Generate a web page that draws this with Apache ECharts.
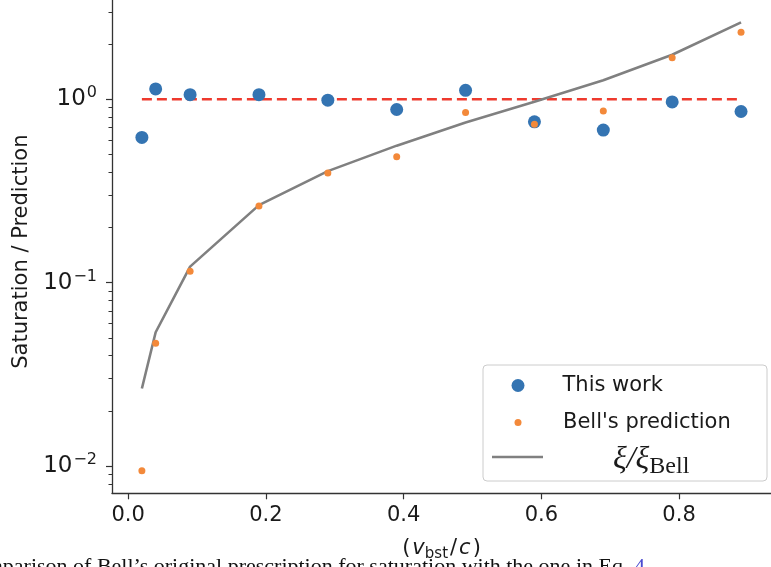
<!DOCTYPE html>
<html><head><meta charset="utf-8">
<script src="https://cdn.jsdelivr.net/npm/echarts@6/dist/echarts.min.js"></script>
<style>html,body{margin:0;padding:0;background:#fff;overflow:hidden}#c{width:771px;height:567px}</style>
</head><body><div id="c"></div>
<script>
// ---- data ----
const xValues = [0.02, 0.04, 0.09, 0.19, 0.29, 0.39, 0.49, 0.59, 0.69, 0.79, 0.89];
const thisWork = [0.62, 1.14, 1.06, 1.06, 0.99, 0.88, 1.12, 0.754, 0.68, 0.968, 0.858];
const bellPrediction = [0.00943, 0.0468, 0.1154, 0.262, 0.396, 0.487, 0.847, 0.732, 0.865, 1.683, 2.32];
const xiRatio = [0.0265, 0.0537, 0.1224, 0.265, 0.406, 0.559, 0.748, 0.97, 1.27, 1.75, 2.63];
const referenceX = [0.02, 0.89];
const referenceLevel = [1, 1];
const xTicks = [0, 0.2, 0.4, 0.6, 0.8];
const yMajorExponents = [-2, -1, 0];
const yMinorMultipliers = [2, 3, 4, 5, 6, 7, 8, 9];
const seriesNames = ['This work', "Bell's prediction", 'xi_ratio'];
const captionText = 'Comparison of Bell\u2019s original prescription for saturation with the one in Eq. ';

const xMin = -0.0234, xMax = 0.9335;
const yMin = 0.00711, yMax = 3.48;
const logMin = Math.log10(yMin), logMax = Math.log10(yMax);

const minorLogs = [];
for (let e = -3; e <= 0; e++) {
  for (const k of yMinorMultipliers) {
    const v = Math.log10(k) + e;
    if (v > logMin && v < logMax) minorLogs.push(v);
  }
}

const pairs = arr => xValues.map((x, i) => [x, arr[i]]);
const FONT = 'DejaVu Sans';
const INK = '#1a1a1a';

const chart = echarts.init(document.getElementById('c'), null, {renderer: 'canvas'});
chart.setOption({
  animation: false,
  backgroundColor: '#fff',
  grid: {left: 112, right: -8, top: -3.3, bottom: 567 - 493.3, containLabel: false},
  xAxis: {
    type: 'value', min: xMin, max: xMax,
    name: '{p|(}{v|v}{s|bst}{p|/}{v|c}{p|)}',
    nameLocation: 'middle', nameGap: 43,
    nameTextStyle: {
      rich: {
        p: {fontFamily: FONT, fontSize: 21, color: INK, padding: [0, 2, 0, 2]},
        v: {fontFamily: FONT, fontSize: 21, fontStyle: 'italic', color: INK},
        s: {fontFamily: FONT, fontSize: 15, color: INK, padding: [10, 0, 0, 0]}
      }
    },
    axisLine: {show: true, onZero: false, lineStyle: {color: '#333', width: 1.3}},
    axisTick: {show: true, length: 6, customValues: xTicks, lineStyle: {color: '#333', width: 1.2}},
    axisLabel: {customValues: xTicks, margin: 12, fontFamily: FONT, fontSize: 21, color: INK,
      formatter: v => v.toFixed(1)},
    splitLine: {show: false}
  },
  yAxis: [
    {
      type: 'log', logBase: 10, min: yMin, max: yMax,
      axisLine: {show: true, onZero: false, lineStyle: {color: '#333', width: 1.3}},
      axisTick: {show: false}, axisLabel: {show: false}, splitLine: {show: false}, minorTick: {show: false}
    },
    {
      type: 'value', min: logMin, max: logMax, position: 'left', offset: 0,
      name: 'Saturation / Prediction', nameLocation: 'middle', nameGap: 78,
      nameTextStyle: {fontFamily: FONT, fontSize: 21, color: INK, padding: [0, 10, 0, 0]},
      axisLine: {show: false, onZero: false},
      axisTick: {show: true, length: 6, customValues: yMajorExponents, lineStyle: {color: '#333', width: 1.2}},
      minorTick: {show: false},
      axisLabel: {
        customValues: yMajorExponents, margin: 15,
        formatter: v => '{b|10}{s|' + (v < 0 ? '\u2212' + Math.round(-v) : Math.round(v)) + '}',
        rich: {
          b: {fontFamily: FONT, fontSize: 23, color: INK},
          s: {fontFamily: FONT, fontSize: 16, color: INK, padding: [0, 0, 12, 1]}
        }
      },
      splitLine: {show: false}
    },
    {
      type: 'value', min: logMin, max: logMax, position: 'left', offset: 0,
      axisLine: {show: false, onZero: false}, axisLabel: {show: false}, splitLine: {show: false},
      axisTick: {show: true, length: 3.5, customValues: minorLogs, lineStyle: {color: '#333', width: 1}}
    }
  ],
  legend: [
    {
      data: [seriesNames[0]], left: 511.5, top: 375, padding: 0, orient: 'vertical',
      itemWidth: 13, itemHeight: 13, selectedMode: false,
      formatter: n => '{g|}{t|' + n + '}',
      textStyle: {rich: {g: {width: 33}, t: {fontFamily: FONT, fontSize: 21, color: INK, lineHeight: 24}}}
    },
    {
      data: [seriesNames[1]], left: 514.5, top: 412, padding: 0, orient: 'vertical',
      itemWidth: 7, itemHeight: 7, selectedMode: false,
      formatter: n => '{g|}{t|' + n + '}',
      textStyle: {rich: {g: {width: 36.5}, t: {fontFamily: FONT, fontSize: 21, color: INK, lineHeight: 24}}}
    },
    {
      data: [{name: seriesNames[2], icon: 'rect', itemStyle: {color: '#808080'}}],
      left: 492, top: 444, padding: 0, orient: 'vertical',
      itemWidth: 51, itemHeight: 2.6, selectedMode: false,
      formatter: () => '{g|}{a|\u03be/\u03be}{b|Bell}',
      textStyle: {
        rich: {
          g: {width: 65, lineHeight: 40},
          a: {fontFamily: 'Liberation Serif', fontStyle: 'italic', fontSize: 32, color: INK, padding: [6, 0, 0, 0]},
          b: {fontFamily: 'Liberation Serif', fontSize: 24, color: INK, padding: [20, 0, 0, 0]}
        }
      }
    }
  ],
  graphic: [
    {
      type: 'rect', z: 0,
      shape: {x: 483, y: 365, width: 284, height: 116, r: 4},
      style: {fill: '#fff', stroke: '#cccccc', lineWidth: 1}
    },
    {
      type: 'text', z: 10, x: -40, y: 556,
      style: {
        text: '{t|' + captionText + '}{l|4}',
        verticalAlign: 'top',
        rich: {
          t: {fontFamily: 'Liberation Serif', fontSize: 22, fill: '#111'},
          l: {fontFamily: 'Liberation Serif', fontSize: 22, fill: '#4b4bd0'}
        }
      }
    }
  ],
  series: [
    {
      name: 'reference', type: 'line', yAxisIndex: 0, z: 1, symbol: 'none', silent: true,
      data: referenceX.map((x, i) => [x, referenceLevel[i]]),
      lineStyle: {color: '#ee3a2e', width: 2.5, type: [10, 5]}
    },
    {
      name: seriesNames[2], type: 'line', yAxisIndex: 0, z: 2, symbol: 'none',
      data: pairs(xiRatio),
      lineStyle: {color: '#808080', width: 2.6}, itemStyle: {color: '#808080'}
    },
    {
      name: seriesNames[0], type: 'scatter', yAxisIndex: 0, z: 3, symbol: 'circle', symbolSize: 13,
      data: pairs(thisWork), itemStyle: {color: '#3474b2', opacity: 1}
    },
    {
      name: seriesNames[1], type: 'scatter', yAxisIndex: 0, z: 4, symbol: 'circle', symbolSize: 7,
      data: pairs(bellPrediction), itemStyle: {color: '#f3893a', opacity: 1}
    }
  ]
});
</script>
</body></html>
